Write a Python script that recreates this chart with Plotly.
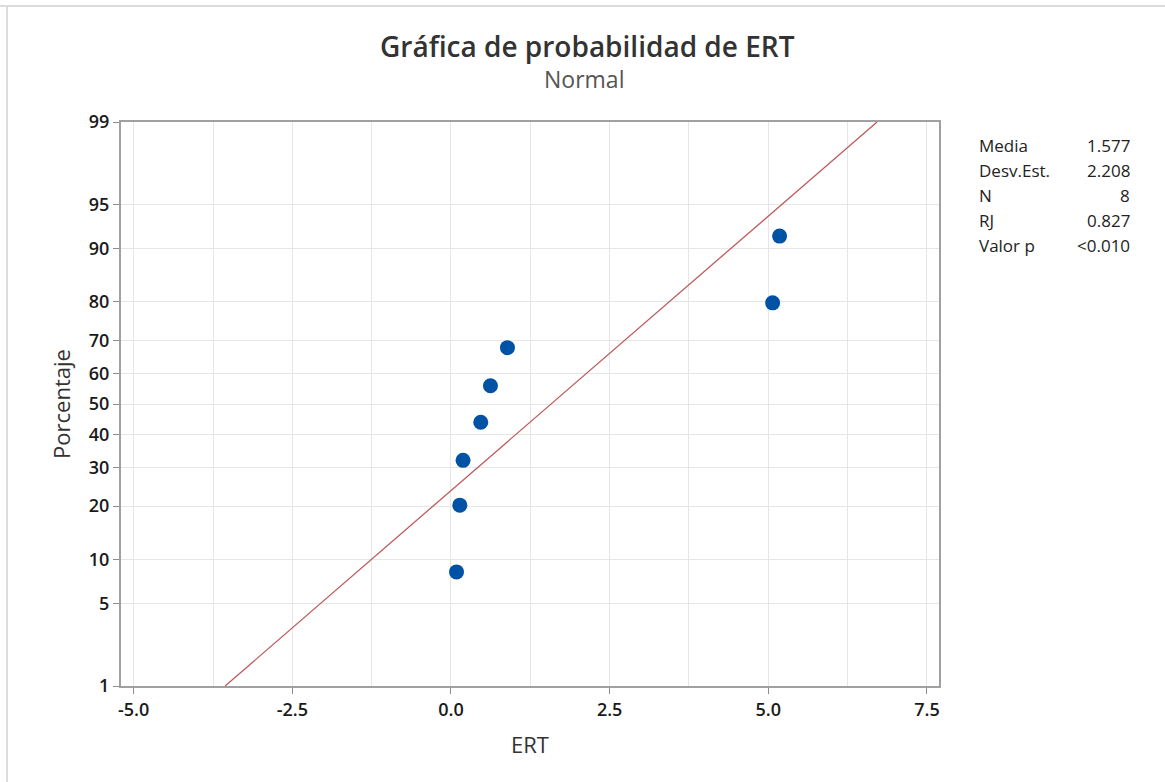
from statistics import NormalDist
import plotly.graph_objects as go

# ERT sample values and their plotting percentages
ert_values = [0.087, 0.139, 0.19, 0.469, 0.622, 0.890, 5.068, 5.178]
percentiles = [8.3, 20.2, 32.1, 44.0, 56.0, 67.9, 79.8, 91.7]

# Summary statistics shown beside the plot
stat_labels = ["Media", "Desv.Est.", "N", "RJ", "Valor p"]
stat_values = ["1.577", "2.208", "8", "0.827", "<0.010"]
mean_ert = 1.577
sd_ert = 2.208

# Probability-scale tick labels (percent)
y_tick_pcts = [1, 5, 10, 20, 30, 40, 50, 60, 70, 80, 90, 95, 99]
x_tick_vals = [-5.0, -2.5, 0.0, 2.5, 5.0, 7.5]

nd = NormalDist()


def z(p):
    return nd.inv_cdf(p / 100.0)


# Geometry of the plotting region in pixels
W, H = 1165, 782
L, R, T, B = 121, 939, 122, 686
pw, ph = R - L, B - T


def px(xp):
    return (xp - L) / pw


def py(yp):
    return (B - yp) / ph


font_family = "Open Sans, Noto Sans, sans-serif"

fig = go.Figure()

# Fitted normal line, drawn between the 1% and 99% points
line_p = [1, 99]
fig.add_trace(go.Scatter(
    x=[mean_ert + sd_ert * z(p) for p in line_p],
    y=[z(p) for p in line_p],
    mode="lines",
    line=dict(color="#bd5b5b", width=1.3),
    hoverinfo="skip",
    showlegend=False,
))

fig.add_trace(go.Scatter(
    x=ert_values,
    y=[z(p) for p in percentiles],
    mode="markers",
    marker=dict(color="#0053a4", size=15),
    showlegend=False,
))

annotations = [
    dict(text="Gráfica de probabilidad de ERT", x=px(587), y=py(46),
         xref="paper", yref="paper", yanchor="middle", showarrow=False,
         font=dict(size=28, color="#333333", family=font_family, weight=600)),
    dict(text="Normal", x=px(584), y=py(79),
         xref="paper", yref="paper", yanchor="middle", showarrow=False,
         font=dict(size=23, color="#555555", family=font_family)),
]
for i, (lab, val) in enumerate(zip(stat_labels, stat_values)):
    yy = py(145 + 25 * i)
    annotations.append(dict(text=lab, x=px(977), y=yy, xref="paper", yref="paper",
                            xanchor="left", yanchor="middle", showarrow=False,
                            font=dict(size=17, color="#222222", family=font_family)))
    annotations.append(dict(text=val, x=px(1132), y=yy, xref="paper", yref="paper",
                            xanchor="right", yanchor="middle", showarrow=False,
                            font=dict(size=17, color="#222222", family=font_family)))

shapes = [
    dict(type="line", xref="paper", yref="paper", x0=px(0), x1=px(W), y0=py(6), y1=py(6),
         line=dict(color="#dcdcdc", width=2)),
    dict(type="line", xref="paper", yref="paper", x0=px(7), x1=px(7), y0=py(6), y1=py(H),
         line=dict(color="#dcdcdc", width=2)),
]

tick_font = dict(size=18, color="#1a1a1a", family=font_family, weight=600)
title_font = dict(size=22, color="#333333", family=font_family, weight=500)

fig.update_layout(
    width=W, height=H,
    margin=dict(l=L, r=W - R, t=T, b=H - B),
    paper_bgcolor="white",
    plot_bgcolor="white",
    font=dict(family=font_family, color="#222222"),
    annotations=annotations,
    shapes=shapes,
    xaxis=dict(
        range=[-5.2, 7.69],
        tickvals=x_tick_vals,
        ticktext=[f"{v:.1f}" for v in x_tick_vals],
        ticks="outside", ticklen=6, tickcolor="#8c8c8c",
        tickfont=tick_font,
        showgrid=True, gridcolor="#e6e6e6", gridwidth=1,
        minor=dict(tick0=0, dtick=1.25, showgrid=True, gridcolor="#e6e6e6"),
        showline=True, linecolor="#a0a0a0", linewidth=2, mirror=True,
        zeroline=False,
        title=dict(text="ERT", font=title_font, standoff=18),
    ),
    yaxis=dict(
        range=[z(1), z(99)],
        tickvals=[z(p) for p in y_tick_pcts],
        ticktext=[str(p) for p in y_tick_pcts],
        ticks="outside", ticklen=6, tickcolor="#8c8c8c",
        tickfont=tick_font,
        showgrid=True, gridcolor="#e6e6e6", gridwidth=1,
        showline=True, linecolor="#a0a0a0", linewidth=2, mirror=True,
        zeroline=False,
        title=dict(text="Porcentaje", font=title_font, standoff=12),
    ),
)

fig.write_html("out.html")
